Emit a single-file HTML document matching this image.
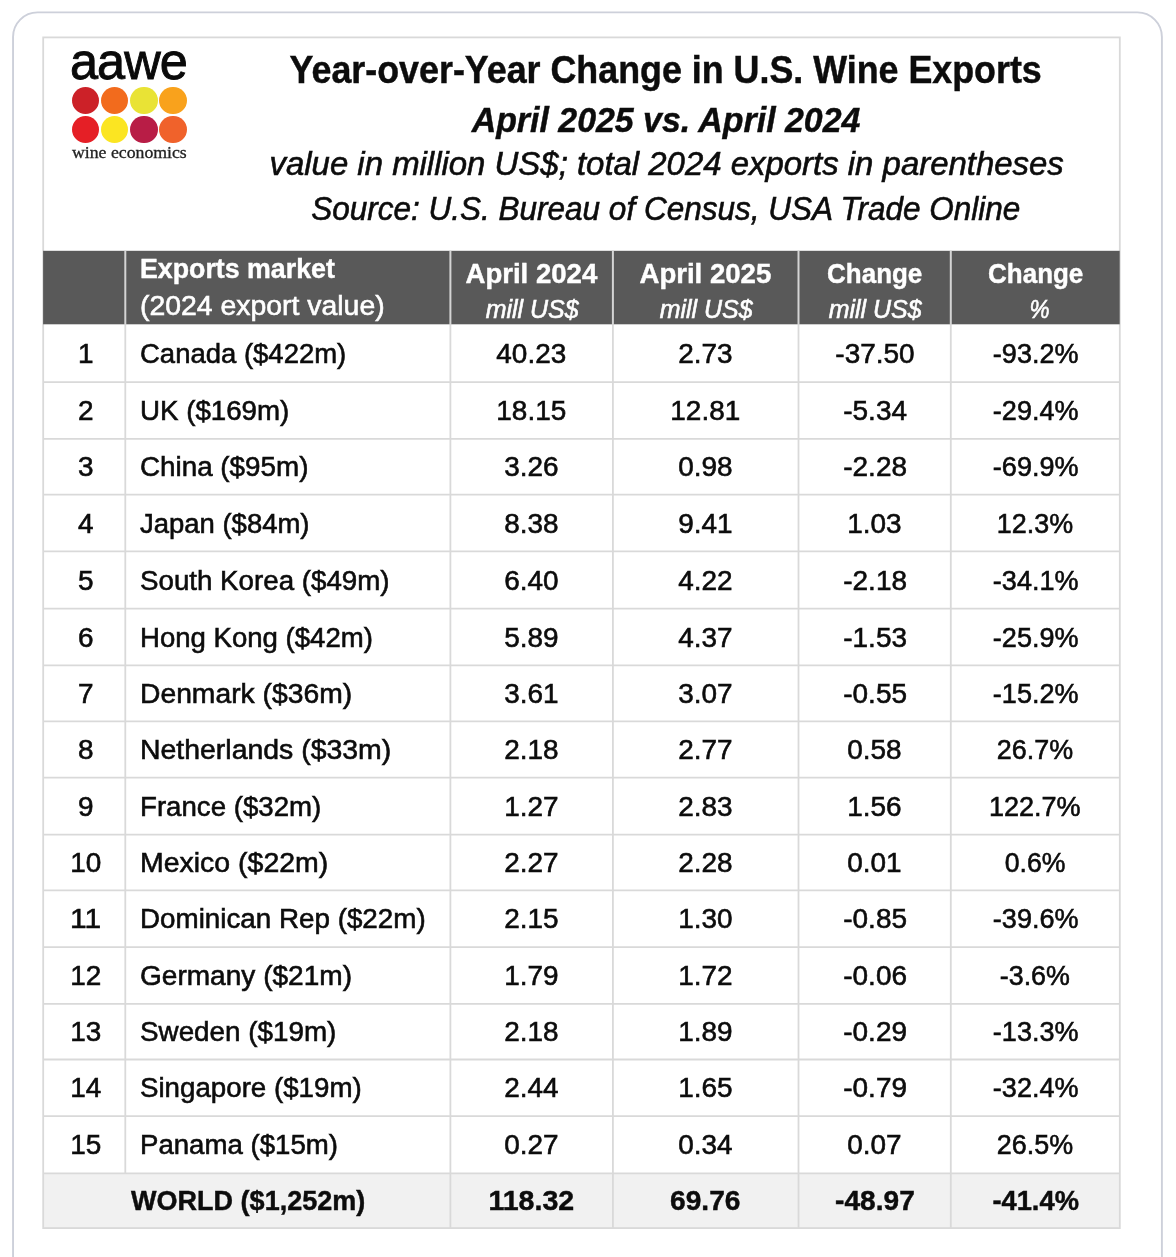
<!DOCTYPE html>
<html lang="en"><head><meta charset="utf-8"><title>Year-over-Year Change in U.S. Wine Exports</title>
<style>
html,body{margin:0;padding:0;background:#fff;}
html{overflow:hidden;}
body{width:1176px;height:1257px;position:relative;overflow:hidden;font-family:"Liberation Sans",sans-serif;}
.geo{position:absolute;left:0;top:0;}
.txt{position:absolute;left:0;top:0;width:1176px;height:1257px;will-change:transform;}
.t{position:absolute;white-space:nowrap;line-height:1;display:block;color:#0c0c0c;-webkit-text-stroke:0.6px currentColor;}
.l{transform-origin:0 50%;}
.c{transform-origin:50% 50%;}
.b{font-weight:700;-webkit-text-stroke:0.45px currentColor;}
.i{font-style:italic;}
.w{color:#fff;}
.dot{position:absolute;border-radius:50%;width:27.6px;height:27.6px;}
.logo1{position:absolute;font-family:"Liberation Sans",sans-serif;white-space:nowrap;line-height:1;color:#0a0a0a;transform-origin:0 50%;}
.logo2{position:absolute;font-family:"Liberation Serif",serif;white-space:nowrap;line-height:1;color:#222;transform-origin:0 50%;}
</style></head><body>
<svg class="geo" width="1176" height="1257" viewBox="0 0 1176 1257">
<rect x="13.05" y="12.4" width="1148.85" height="1320" rx="24.5" ry="24.5" fill="#fff" stroke="#cdd0da" stroke-width="1.9"/>
<rect x="43.20" y="1173.30" width="1076.60" height="54.80" fill="#f1f1f1"/>
<rect x="43.20" y="37.40" width="1076.60" height="1190.70" fill="none" stroke="#d9d9d9" stroke-width="1.8"/>
<line x1="43.20" y1="382.10" x2="1119.80" y2="382.10" stroke="#d9d9d9" stroke-width="1.8"/>
<line x1="43.20" y1="438.90" x2="1119.80" y2="438.90" stroke="#d9d9d9" stroke-width="1.8"/>
<line x1="43.20" y1="494.60" x2="1119.80" y2="494.60" stroke="#d9d9d9" stroke-width="1.8"/>
<line x1="43.20" y1="551.40" x2="1119.80" y2="551.40" stroke="#d9d9d9" stroke-width="1.8"/>
<line x1="43.20" y1="608.60" x2="1119.80" y2="608.60" stroke="#d9d9d9" stroke-width="1.8"/>
<line x1="43.20" y1="665.40" x2="1119.80" y2="665.40" stroke="#d9d9d9" stroke-width="1.8"/>
<line x1="43.20" y1="721.30" x2="1119.80" y2="721.30" stroke="#d9d9d9" stroke-width="1.8"/>
<line x1="43.20" y1="777.60" x2="1119.80" y2="777.60" stroke="#d9d9d9" stroke-width="1.8"/>
<line x1="43.20" y1="834.70" x2="1119.80" y2="834.70" stroke="#d9d9d9" stroke-width="1.8"/>
<line x1="43.20" y1="890.30" x2="1119.80" y2="890.30" stroke="#d9d9d9" stroke-width="1.8"/>
<line x1="43.20" y1="947.10" x2="1119.80" y2="947.10" stroke="#d9d9d9" stroke-width="1.8"/>
<line x1="43.20" y1="1003.80" x2="1119.80" y2="1003.80" stroke="#d9d9d9" stroke-width="1.8"/>
<line x1="43.20" y1="1059.50" x2="1119.80" y2="1059.50" stroke="#d9d9d9" stroke-width="1.8"/>
<line x1="43.20" y1="1116.10" x2="1119.80" y2="1116.10" stroke="#d9d9d9" stroke-width="1.8"/>
<line x1="43.20" y1="1173.30" x2="1119.80" y2="1173.30" stroke="#d9d9d9" stroke-width="1.8"/>
<rect x="43.10" y="250.80" width="1076.60" height="73.50" fill="#595959"/>
<line x1="125.30" y1="250.80" x2="125.30" y2="324.30" stroke="#d4d4d4" stroke-width="2"/>
<line x1="125.30" y1="324.30" x2="125.30" y2="1173.30" stroke="#d9d9d9" stroke-width="1.8"/>
<line x1="450.40" y1="250.80" x2="450.40" y2="324.30" stroke="#d4d4d4" stroke-width="2"/>
<line x1="450.40" y1="324.30" x2="450.40" y2="1228.10" stroke="#d9d9d9" stroke-width="1.8"/>
<line x1="612.90" y1="250.80" x2="612.90" y2="324.30" stroke="#d4d4d4" stroke-width="2"/>
<line x1="612.90" y1="324.30" x2="612.90" y2="1228.10" stroke="#d9d9d9" stroke-width="1.8"/>
<line x1="798.50" y1="250.80" x2="798.50" y2="324.30" stroke="#d4d4d4" stroke-width="2"/>
<line x1="798.50" y1="324.30" x2="798.50" y2="1228.10" stroke="#d9d9d9" stroke-width="1.8"/>
<line x1="950.80" y1="250.80" x2="950.80" y2="324.30" stroke="#d4d4d4" stroke-width="2"/>
<line x1="950.80" y1="324.30" x2="950.80" y2="1228.10" stroke="#d9d9d9" stroke-width="1.8"/>
</svg>
<div class="txt">
<div class="t c b" style="left:260.79px;top:51.36px;font-size:38.55px;transform:scaleX(0.9293)">Year-over-Year Change in U.S. Wine Exports</div>
<div class="t c b i" style="left:461.82px;top:103.05px;font-size:35.60px;transform:scaleX(0.9525)">April 2025 vs. April 2024</div>
<div class="t c i" style="left:264.97px;top:146.80px;font-size:33.30px;transform:scaleX(0.9888)">value in million US$; total 2024 exports in parentheses</div>
<div class="t c i" style="left:290.60px;top:192.00px;font-size:33.30px;transform:scaleX(0.9461)">Source: U.S. Bureau of Census, USA Trade Online</div>
<div class="t l b w" style="left:139.90px;top:254.32px;font-size:28.20px;transform:scaleX(0.9494)">Exports market</div>
<div class="t l w" style="left:139.90px;top:290.52px;font-size:28.20px;transform:scaleX(1.0073)">(2024 export value)</div>
<div class="t c b w" style="left:463.75px;top:258.72px;font-size:28.20px;transform:scaleX(0.9782)">April 2024</div>
<div class="t c i w" style="left:483.53px;top:296.91px;font-size:25.85px;transform:scaleX(0.9654)">mill US$</div>
<div class="t c b w" style="left:637.70px;top:258.72px;font-size:28.20px;transform:scaleX(0.9782)">April 2025</div>
<div class="t c i w" style="left:657.58px;top:296.91px;font-size:25.85px;transform:scaleX(0.9654)">mill US$</div>
<div class="t c b w" style="left:823.10px;top:258.72px;font-size:28.20px;transform:scaleX(0.9207)">Change</div>
<div class="t c i w" style="left:826.53px;top:296.91px;font-size:25.85px;transform:scaleX(0.9654)">mill US$</div>
<div class="t c b w" style="left:984.40px;top:258.72px;font-size:28.20px;transform:scaleX(0.9207)">Change</div>
<div class="t c i w" style="left:1027.81px;top:296.91px;font-size:25.85px;transform:scaleX(0.8738)">%</div>
<div class="t c" style="left:77.61px;top:338.82px;font-size:28.20px;transform:scaleX(0.9905)">1</div>
<div class="t l" style="left:139.90px;top:338.82px;font-size:28.20px;transform:scaleX(0.9750)">Canada ($422m)</div>
<div class="t c" style="left:496.37px;top:338.82px;font-size:28.20px;transform:scaleX(0.9902)">40.23</div>
<div class="t c" style="left:678.26px;top:338.82px;font-size:28.20px;transform:scaleX(0.9901)">2.73</div>
<div class="t c" style="left:834.67px;top:338.82px;font-size:28.20px;transform:scaleX(0.9913)">-37.50</div>
<div class="t c" style="left:990.63px;top:338.82px;font-size:28.20px;transform:scaleX(0.9585)">-93.2%</div>
<div class="t c" style="left:77.61px;top:396.12px;font-size:28.20px;transform:scaleX(0.9905)">2</div>
<div class="t l" style="left:139.90px;top:396.12px;font-size:28.20px;transform:scaleX(0.9824)">UK ($169m)</div>
<div class="t c" style="left:496.37px;top:396.12px;font-size:28.20px;transform:scaleX(0.9902)">18.15</div>
<div class="t c" style="left:670.42px;top:396.12px;font-size:28.20px;transform:scaleX(0.9902)">12.81</div>
<div class="t c" style="left:842.51px;top:396.12px;font-size:28.20px;transform:scaleX(0.9915)">-5.34</div>
<div class="t c" style="left:990.63px;top:396.12px;font-size:28.20px;transform:scaleX(0.9585)">-29.4%</div>
<div class="t c" style="left:77.61px;top:452.37px;font-size:28.20px;transform:scaleX(0.9905)">3</div>
<div class="t l" style="left:139.90px;top:452.37px;font-size:28.20px;transform:scaleX(0.9862)">China ($95m)</div>
<div class="t c" style="left:504.21px;top:452.37px;font-size:28.20px;transform:scaleX(0.9901)">3.26</div>
<div class="t c" style="left:678.26px;top:452.37px;font-size:28.20px;transform:scaleX(0.9901)">0.98</div>
<div class="t c" style="left:842.51px;top:452.37px;font-size:28.20px;transform:scaleX(0.9915)">-2.28</div>
<div class="t c" style="left:990.63px;top:452.37px;font-size:28.20px;transform:scaleX(0.9585)">-69.9%</div>
<div class="t c" style="left:77.61px;top:508.62px;font-size:28.20px;transform:scaleX(0.9905)">4</div>
<div class="t l" style="left:139.90px;top:508.62px;font-size:28.20px;transform:scaleX(0.9745)">Japan ($84m)</div>
<div class="t c" style="left:504.21px;top:508.62px;font-size:28.20px;transform:scaleX(0.9901)">8.38</div>
<div class="t c" style="left:678.26px;top:508.62px;font-size:28.20px;transform:scaleX(0.9901)">9.41</div>
<div class="t c" style="left:847.21px;top:508.62px;font-size:28.20px;transform:scaleX(0.9901)">1.03</div>
<div class="t c" style="left:995.32px;top:508.62px;font-size:28.20px;transform:scaleX(0.9537)">12.3%</div>
<div class="t c" style="left:77.61px;top:565.62px;font-size:28.20px;transform:scaleX(0.9905)">5</div>
<div class="t l" style="left:139.90px;top:565.62px;font-size:28.20px;transform:scaleX(0.9830)">South Korea ($49m)</div>
<div class="t c" style="left:504.21px;top:565.62px;font-size:28.20px;transform:scaleX(0.9901)">6.40</div>
<div class="t c" style="left:678.26px;top:565.62px;font-size:28.20px;transform:scaleX(0.9901)">4.22</div>
<div class="t c" style="left:842.51px;top:565.62px;font-size:28.20px;transform:scaleX(0.9915)">-2.18</div>
<div class="t c" style="left:990.63px;top:565.62px;font-size:28.20px;transform:scaleX(0.9585)">-34.1%</div>
<div class="t c" style="left:77.61px;top:622.62px;font-size:28.20px;transform:scaleX(0.9905)">6</div>
<div class="t l" style="left:139.90px;top:622.62px;font-size:28.20px;transform:scaleX(0.9779)">Hong Kong ($42m)</div>
<div class="t c" style="left:504.21px;top:622.62px;font-size:28.20px;transform:scaleX(0.9901)">5.89</div>
<div class="t c" style="left:678.26px;top:622.62px;font-size:28.20px;transform:scaleX(0.9901)">4.37</div>
<div class="t c" style="left:842.51px;top:622.62px;font-size:28.20px;transform:scaleX(0.9915)">-1.53</div>
<div class="t c" style="left:990.63px;top:622.62px;font-size:28.20px;transform:scaleX(0.9585)">-25.9%</div>
<div class="t c" style="left:77.61px;top:678.97px;font-size:28.20px;transform:scaleX(0.9905)">7</div>
<div class="t l" style="left:139.90px;top:678.97px;font-size:28.20px;transform:scaleX(1.0031)">Denmark ($36m)</div>
<div class="t c" style="left:504.21px;top:678.97px;font-size:28.20px;transform:scaleX(0.9901)">3.61</div>
<div class="t c" style="left:678.26px;top:678.97px;font-size:28.20px;transform:scaleX(0.9901)">3.07</div>
<div class="t c" style="left:842.51px;top:678.97px;font-size:28.20px;transform:scaleX(0.9915)">-0.55</div>
<div class="t c" style="left:990.63px;top:678.97px;font-size:28.20px;transform:scaleX(0.9585)">-15.2%</div>
<div class="t c" style="left:77.61px;top:735.07px;font-size:28.20px;transform:scaleX(0.9905)">8</div>
<div class="t l" style="left:139.90px;top:735.07px;font-size:28.20px;transform:scaleX(1.0084)">Netherlands ($33m)</div>
<div class="t c" style="left:504.21px;top:735.07px;font-size:28.20px;transform:scaleX(0.9901)">2.18</div>
<div class="t c" style="left:678.26px;top:735.07px;font-size:28.20px;transform:scaleX(0.9901)">2.77</div>
<div class="t c" style="left:847.21px;top:735.07px;font-size:28.20px;transform:scaleX(0.9901)">0.58</div>
<div class="t c" style="left:995.32px;top:735.07px;font-size:28.20px;transform:scaleX(0.9537)">26.7%</div>
<div class="t c" style="left:77.61px;top:791.77px;font-size:28.20px;transform:scaleX(0.9905)">9</div>
<div class="t l" style="left:139.90px;top:791.77px;font-size:28.20px;transform:scaleX(0.9807)">France ($32m)</div>
<div class="t c" style="left:504.21px;top:791.77px;font-size:28.20px;transform:scaleX(0.9901)">1.27</div>
<div class="t c" style="left:678.26px;top:791.77px;font-size:28.20px;transform:scaleX(0.9901)">2.83</div>
<div class="t c" style="left:847.21px;top:791.77px;font-size:28.20px;transform:scaleX(0.9901)">1.56</div>
<div class="t c" style="left:987.48px;top:791.77px;font-size:28.20px;transform:scaleX(0.9597)">122.7%</div>
<div class="t c" style="left:69.77px;top:848.12px;font-size:28.20px;transform:scaleX(0.9906)">10</div>
<div class="t l" style="left:139.90px;top:848.12px;font-size:28.20px;transform:scaleX(1.0102)">Mexico ($22m)</div>
<div class="t c" style="left:504.21px;top:848.12px;font-size:28.20px;transform:scaleX(0.9901)">2.27</div>
<div class="t c" style="left:678.26px;top:848.12px;font-size:28.20px;transform:scaleX(0.9901)">2.28</div>
<div class="t c" style="left:847.21px;top:848.12px;font-size:28.20px;transform:scaleX(0.9901)">0.01</div>
<div class="t c" style="left:1003.16px;top:848.12px;font-size:28.20px;transform:scaleX(0.9447)">0.6%</div>
<div class="t c" style="left:70.81px;top:904.32px;font-size:28.20px;transform:scaleX(1.0614)">11</div>
<div class="t l" style="left:139.90px;top:904.32px;font-size:28.20px;transform:scaleX(0.9856)">Dominican Rep ($22m)</div>
<div class="t c" style="left:504.21px;top:904.32px;font-size:28.20px;transform:scaleX(0.9901)">2.15</div>
<div class="t c" style="left:678.26px;top:904.32px;font-size:28.20px;transform:scaleX(0.9901)">1.30</div>
<div class="t c" style="left:842.51px;top:904.32px;font-size:28.20px;transform:scaleX(0.9915)">-0.85</div>
<div class="t c" style="left:990.63px;top:904.32px;font-size:28.20px;transform:scaleX(0.9585)">-39.6%</div>
<div class="t c" style="left:69.77px;top:961.07px;font-size:28.20px;transform:scaleX(0.9906)">12</div>
<div class="t l" style="left:139.90px;top:961.07px;font-size:28.20px;transform:scaleX(0.9950)">Germany ($21m)</div>
<div class="t c" style="left:504.21px;top:961.07px;font-size:28.20px;transform:scaleX(0.9901)">1.79</div>
<div class="t c" style="left:678.26px;top:961.07px;font-size:28.20px;transform:scaleX(0.9901)">1.72</div>
<div class="t c" style="left:842.51px;top:961.07px;font-size:28.20px;transform:scaleX(0.9915)">-0.06</div>
<div class="t c" style="left:998.47px;top:961.07px;font-size:28.20px;transform:scaleX(0.9517)">-3.6%</div>
<div class="t c" style="left:69.77px;top:1017.27px;font-size:28.20px;transform:scaleX(0.9906)">13</div>
<div class="t l" style="left:139.90px;top:1017.27px;font-size:28.20px;transform:scaleX(0.9866)">Sweden ($19m)</div>
<div class="t c" style="left:504.21px;top:1017.27px;font-size:28.20px;transform:scaleX(0.9901)">2.18</div>
<div class="t c" style="left:678.26px;top:1017.27px;font-size:28.20px;transform:scaleX(0.9901)">1.89</div>
<div class="t c" style="left:842.51px;top:1017.27px;font-size:28.20px;transform:scaleX(0.9915)">-0.29</div>
<div class="t c" style="left:990.63px;top:1017.27px;font-size:28.20px;transform:scaleX(0.9585)">-13.3%</div>
<div class="t c" style="left:69.77px;top:1073.42px;font-size:28.20px;transform:scaleX(0.9906)">14</div>
<div class="t l" style="left:139.90px;top:1073.42px;font-size:28.20px;transform:scaleX(0.9825)">Singapore ($19m)</div>
<div class="t c" style="left:504.21px;top:1073.42px;font-size:28.20px;transform:scaleX(0.9901)">2.44</div>
<div class="t c" style="left:678.26px;top:1073.42px;font-size:28.20px;transform:scaleX(0.9901)">1.65</div>
<div class="t c" style="left:842.51px;top:1073.42px;font-size:28.20px;transform:scaleX(0.9915)">-0.79</div>
<div class="t c" style="left:990.63px;top:1073.42px;font-size:28.20px;transform:scaleX(0.9585)">-32.4%</div>
<div class="t c" style="left:69.77px;top:1130.32px;font-size:28.20px;transform:scaleX(0.9906)">15</div>
<div class="t l" style="left:139.90px;top:1130.32px;font-size:28.20px;transform:scaleX(0.9794)">Panama ($15m)</div>
<div class="t c" style="left:504.21px;top:1130.32px;font-size:28.20px;transform:scaleX(0.9901)">0.27</div>
<div class="t c" style="left:678.26px;top:1130.32px;font-size:28.20px;transform:scaleX(0.9901)">0.34</div>
<div class="t c" style="left:847.21px;top:1130.32px;font-size:28.20px;transform:scaleX(0.9901)">0.07</div>
<div class="t c" style="left:995.32px;top:1130.32px;font-size:28.20px;transform:scaleX(0.9537)">26.5%</div>
<div class="t c b" style="left:125.58px;top:1186.42px;font-size:28.20px;transform:scaleX(0.9581)">WORLD ($1,252m)</div>
<div class="t c b" style="left:489.30px;top:1186.42px;font-size:28.20px;transform:scaleX(1.0138)">118.32</div>
<div class="t c b" style="left:670.42px;top:1186.42px;font-size:28.20px;transform:scaleX(0.9966)">69.76</div>
<div class="t c b" style="left:834.67px;top:1186.42px;font-size:28.20px;transform:scaleX(0.9969)">-48.97</div>
<div class="t c b" style="left:990.63px;top:1186.42px;font-size:28.20px;transform:scaleX(0.9683)">-41.4%</div>
<div class="logo1" style="left:69.6px;top:36.4px;font-size:51.8px;letter-spacing:-1px;-webkit-text-stroke:0.9px #0a0a0a;transform:scaleX(0.975)">aawe</div>
<div class="dot" style="left:71.6px;top:86.5px;background:#cc2128"></div>
<div class="dot" style="left:100.9px;top:86.5px;background:#f26b1d"></div>
<div class="dot" style="left:130.1px;top:86.5px;background:#e9e335"></div>
<div class="dot" style="left:159.3px;top:86.5px;background:#f9a21c"></div>
<div class="dot" style="left:71.6px;top:115.6px;background:#e51f26"></div>
<div class="dot" style="left:100.9px;top:115.6px;background:#fbe522"></div>
<div class="dot" style="left:130.1px;top:115.6px;background:#b81d46"></div>
<div class="dot" style="left:159.3px;top:115.6px;background:#f0622b"></div>
<div class="logo2" style="left:71.6px;top:145.0px;font-size:16.6px;-webkit-text-stroke:0.3px #222;transform:scaleX(1.069)">wine economics</div>
</div>
</body></html>
